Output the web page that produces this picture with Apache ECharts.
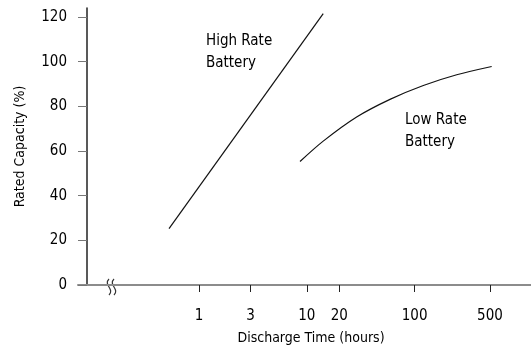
<!DOCTYPE html>
<html>
<head>
<meta charset="utf-8">
<script src="https://cdn.jsdelivr.net/npm/echarts@6/dist/echarts.min.js"></script>
<style>html,body{margin:0;padding:0;background:#fff}#c{width:531px;height:350px}</style>
</head>
<body>
<div id="c"></div>
<script>
// Data
var xTickValues = [1, 3, 10, 20, 100, 500];
var yTickValues = [0, 20, 40, 60, 80, 100, 120];
var highRateHours = [0.527, 14.2];
var highRateCapacity = [25.2, 121.5];
var lowRateHours = [8.65, 14.2, 29.0, 59.1, 120.5, 246, 519];
var lowRateCapacity = [55.3, 64.4, 75.2, 83.1, 89.3, 94.1, 97.8];
var xAxisTitle = 'Discharge Time (hours)';
var yAxisTitle = 'Rated Capacity (%)';
var highLabel = 'High Rate\nBattery';
var lowLabel = 'Low Rate\nBattery';

function pairs(xs, ys) { return xs.map(function (x, i) { return [x, ys[i]]; }); }

var FONT = "'Liberation Sans Narrow', 'DejaVu Sans Condensed', sans-serif";
var chart = echarts.init(document.getElementById('c'), null, {renderer: 'canvas'});
chart.setOption({
  animation: false,
  backgroundColor: '#fff',
  grid: {left: 78, right: 0, top: 8, bottom: 64, containLabel: false},
  xAxis: {
    type: 'log', logBase: 10, min: 0.0754, max: 1202,
    axisLine: {lineStyle: {color: '#8c8c8c', width: 2}},
    axisTick: {customValues: xTickValues, length: 7, lineStyle: {color: '#222', width: 1}},
    axisLabel: {customValues: xTickValues, margin: 24, color: '#000', fontSize: 15, fontFamily: FONT},
    splitLine: {show: false},
    name: xAxisTitle, nameLocation: 'middle', nameGap: 46,
    nameTextStyle: {color: '#000', fontSize: 14, fontFamily: FONT, padding: [0, 0, 0, 13]}
  },
  yAxis: {
    type: 'value', min: 0, max: 124, offset: -9,
    axisLine: {show: true, lineStyle: {color: '#222', width: 1.5}},
    axisTick: {customValues: yTickValues, length: 9, lineStyle: {color: '#777', width: 1}},
    axisLabel: {customValues: yTickValues, margin: 20, color: '#000', fontSize: 15, fontFamily: FONT},
    splitLine: {show: false},
    name: yAxisTitle, nameLocation: 'middle', nameGap: 60, nameRotate: 90,
    nameTextStyle: {color: '#000', fontSize: 14, fontFamily: FONT}
  },
  series: [
    {type: 'line', data: pairs(highRateHours, highRateCapacity), showSymbol: false,
     lineStyle: {color: '#111', width: 1.2}, silent: true},
    {type: 'line', data: pairs(lowRateHours, lowRateCapacity), showSymbol: false, smooth: 0.3,
     lineStyle: {color: '#111', width: 1.2}, silent: true}
  ],
  graphic: [
    {type: 'text', left: 206, top: 30, style: {text: highLabel, fill: '#000', fontSize: 15, lineHeight: 22, fontFamily: FONT}},
    {type: 'text', left: 405, top: 109, style: {text: lowLabel, fill: '#000', fontSize: 15, lineHeight: 22, fontFamily: FONT}},
    {type: 'bezierCurve', shape: {x1: 109, y1: 279, cpx1: 103, cpy1: 285, cpx2: 115, cpy2: 289, x2: 109, y2: 295},
     style: {fill: null, stroke: '#333', lineWidth: 1.2}},
    {type: 'bezierCurve', shape: {x1: 114, y1: 279, cpx1: 108, cpy1: 285, cpx2: 120, cpy2: 289, x2: 114, y2: 295},
     style: {fill: null, stroke: '#333', lineWidth: 1.2}}
  ]
});
</script>
</body>
</html>
